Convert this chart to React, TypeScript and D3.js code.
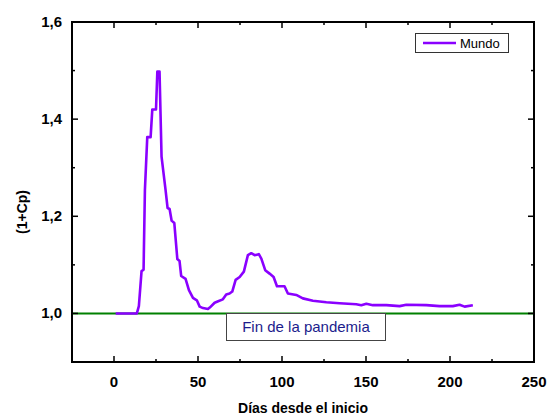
import React, { useEffect, useRef } from 'react';
import * as d3 from 'd3';

const days = [1, 13.6, 14.8, 16.4, 17.6, 18.4, 19.8, 21.8, 22.8, 25, 25.8, 27.1, 28.3, 30.7, 31.9, 33.1, 34.3, 35.9, 37.7, 39, 40, 42.6, 44.6, 47, 49.3, 51, 53, 55.9, 57, 59.9, 62, 64.8, 66.8, 68.8, 70.4, 72.4, 74.8, 77.3, 79.7, 81.7, 83.7, 86.2, 87.7, 90, 92.6, 95, 97, 101.5, 103.5, 108.5, 112.4, 118.4, 126.4, 134.3, 144.2, 147.2, 150.2, 154.1, 162.1, 170, 174, 185.9, 193.8, 201.7, 205.7, 208.7, 213.6];
const mundo = [1.0, 1.0, 1.015, 1.087, 1.09, 1.254, 1.363, 1.363, 1.42, 1.42, 1.498, 1.498, 1.323, 1.254, 1.217, 1.215, 1.191, 1.186, 1.112, 1.108, 1.077, 1.071, 1.048, 1.032, 1.027, 1.014, 1.011, 1.009, 1.012, 1.022, 1.025, 1.029, 1.039, 1.041, 1.045, 1.069, 1.075, 1.086, 1.12, 1.124, 1.12, 1.122, 1.113, 1.089, 1.082, 1.075, 1.056, 1.056, 1.041, 1.038, 1.031, 1.026, 1.023, 1.021, 1.019, 1.017, 1.02, 1.017, 1.017, 1.015, 1.018, 1.017, 1.015, 1.015, 1.018, 1.014, 1.017];

const xTicks = [0, 50, 100, 150, 200, 250];
const xMinor = [25, 75, 125, 175, 225];
const yTicks = [1.0, 1.2, 1.4, 1.6];
const yMinor = [0.9, 1.1, 1.3, 1.5];
const endLevel = 1.0;

const W = 547;
const H = 417;
const m = { left: 72, right: 534, top: 22, bottom: 362 };
const font = 'Arial, "Liberation Sans", sans-serif';

const App: React.FC = () => {
  const ref = useRef<SVGSVGElement>(null);

  useEffect(() => {
    const svg = d3.select(ref.current);
    svg.selectAll('*').remove();

    const x = d3.scaleLinear().domain([-25, 250]).range([m.left, m.right]);
    const y = d3.scaleLinear().domain([0.9, 1.6]).range([m.bottom, m.top]);
    const fmt = (v: number) => d3.format('.1f')(v).replace('.', ',');

    // green reference line
    svg.append('line')
      .attr('x1', m.left).attr('x2', m.right)
      .attr('y1', y(endLevel)).attr('y2', y(endLevel))
      .attr('stroke', '#008000').attr('stroke-width', 2);

    const line = d3.line<number>()
      .x((_, i) => x(days[i]))
      .y((d) => y(d));

    svg.append('path')
      .datum(mundo)
      .attr('d', line)
      .attr('fill', 'none')
      .attr('stroke', '#8a00ff')
      .attr('stroke-width', 2.6)
      .attr('stroke-linejoin', 'round');

    const g = svg.append('g').attr('stroke', '#000');
    // frame
    g.append('rect')
      .attr('x', m.left).attr('y', m.top)
      .attr('width', m.right - m.left).attr('height', m.bottom - m.top)
      .attr('fill', 'none').attr('stroke-width', 2);

    const tick = (arr: number[], len: number) => {
      arr.forEach((v) => {
        g.append('line').attr('x1', x(v)).attr('x2', x(v)).attr('y1', m.bottom).attr('y2', m.bottom - len).attr('stroke-width', 1.5);
        g.append('line').attr('x1', x(v)).attr('x2', x(v)).attr('y1', m.top).attr('y2', m.top + len).attr('stroke-width', 1.5);
      });
    };
    const ytick = (arr: number[], len: number) => {
      arr.forEach((v) => {
        g.append('line').attr('y1', y(v)).attr('y2', y(v)).attr('x1', m.left).attr('x2', m.left + len).attr('stroke-width', 1.5);
        g.append('line').attr('y1', y(v)).attr('y2', y(v)).attr('x1', m.right).attr('x2', m.right - len).attr('stroke-width', 1.5);
      });
    };
    tick(xTicks, 6);
    tick(xMinor, 3);
    ytick(yTicks, 6);
    ytick(yMinor, 3);

    svg.append('g').selectAll('text').data(xTicks).enter().append('text')
      .attr('x', (d) => x(d)).attr('y', 387)
      .attr('text-anchor', 'middle')
      .attr('font-family', font).attr('font-weight', 'bold').attr('font-size', 15)
      .text((d) => String(d));

    svg.append('g').selectAll('text').data(yTicks).enter().append('text')
      .attr('x', 62).attr('y', (d) => y(d) + 5)
      .attr('text-anchor', 'end')
      .attr('font-family', font).attr('font-weight', 'bold').attr('font-size', 15)
      .text((d) => fmt(d));

    svg.append('text')
      .attr('x', (m.left + m.right) / 2).attr('y', 413)
      .attr('text-anchor', 'middle')
      .attr('font-family', font).attr('font-weight', 'bold').attr('font-size', 14)
      .text('Días desde el inicio');

    svg.append('text')
      .attr('transform', `translate(27, ${(m.top + m.bottom) / 2 + 20}) rotate(-90)`)
      .attr('text-anchor', 'middle')
      .attr('font-family', font).attr('font-weight', 'bold').attr('font-size', 14)
      .text('(1+Cp)');

    // annotation box
    svg.append('rect')
      .attr('x', 226.5).attr('y', 313.5).attr('width', 159).attr('height', 27)
      .attr('fill', '#fff').attr('stroke', '#444').attr('stroke-width', 1);
    svg.append('text')
      .attr('x', 306).attr('y', 332)
      .attr('text-anchor', 'middle')
      .attr('font-family', font).attr('font-size', 15).attr('fill', '#1c1c8c')
      .text('Fin de la pandemia');

    // legend
    svg.append('rect')
      .attr('x', 415.5).attr('y', 33.5).attr('width', 93).attr('height', 19)
      .attr('fill', '#fff').attr('stroke', '#333').attr('stroke-width', 1);
    svg.append('line')
      .attr('x1', 423).attr('x2', 456).attr('y1', 43).attr('y2', 43)
      .attr('stroke', '#8a00ff').attr('stroke-width', 2.6);
    svg.append('text')
      .attr('x', 460).attr('y', 48)
      .attr('font-family', font).attr('font-size', 13)
      .text('Mundo');
  }, []);

  return (
    <svg ref={ref} width={W} height={H} style={{ position: 'absolute', left: 0, top: 0, background: '#fff' }} />
  );
};

export default App;
